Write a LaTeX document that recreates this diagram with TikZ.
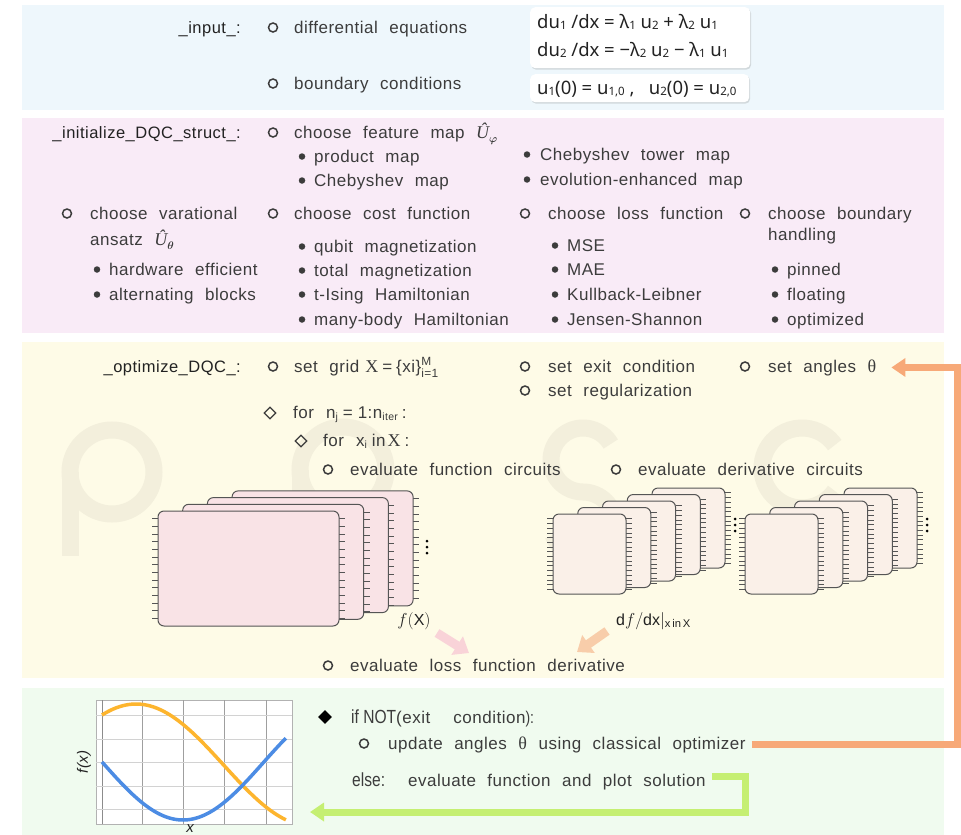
\documentclass[tikz,border=0pt]{standalone}
\usepackage{amsmath}
\usepackage{fontspec}
\setmainfont{Liberation Sans}[LetterSpace=3, WordSpace=2.2]
\newfontfamily\condfont{Liberation Sans}[FakeStretch=0.82]
\newfontfamily\eqfont{Noto Sans}
\newfontfamily\serifg{Liberation Serif}
\usetikzlibrary{arrows.meta,shadows,shapes.geometric,calc}
\definecolor{bandblue}{HTML}{EEF7FC}
\definecolor{bandpink}{HTML}{F9EBF7}
\definecolor{bandyellow}{HTML}{FEFBE7}
\definecolor{bandgreen}{HTML}{F0FBEF}
\definecolor{txtc}{HTML}{3C3C3C}
\definecolor{lblc}{HTML}{222222}
\definecolor{cardpink}{HTML}{F9E3E6}
\definecolor{cardpeach}{HTML}{FAF0E8}
\definecolor{cardedge}{HTML}{555555}
\definecolor{arrorange}{HTML}{F7A978}
\definecolor{arrgreen}{HTML}{C5EF72}
\definecolor{fatpink}{HTML}{F9D3D8}
\definecolor{fatpeach}{HTML}{F8CDAA}
\definecolor{wm}{HTML}{F3EFDC}
\definecolor{plotorange}{HTML}{FDB52E}
\definecolor{plotblue}{HTML}{4C8CE4}
\newcommand\bodyfont{\fontsize{17}{20}\selectfont}
\newcommand\lblfont{\fontsize{16.5}{19}\selectfont}
\newcommand\lsub[1]{\raisebox{-0.25ex}{\fontsize{10.5}{10}\selectfont #1}}
\newcommand\esub[1]{\raisebox{-0.2ex}{\fontsize{11.5}{11}\selectfont #1}}
\newcommand\hatU[1]{{\serifg\itshape\fontsize{18}{20}\selectfont Û}\raisebox{-0.45ex}{\fontsize{11}{11}\selectfont$\boldsymbol{#1}$}}
\newcommand\uth{{\serifg\fontsize{18}{20}\selectfont θ}}
\tikzset{
  txt/.style={anchor=base west, inner sep=0pt, text=txtc, font=\bodyfont},
  lbl/.style={anchor=base east, inner sep=0pt, text=lblc, font=\lblfont},
  hb/.style={circle, draw=txtc, line width=1.5pt, minimum size=9pt, inner sep=0pt},
  fb/.style={circle, fill=txtc, minimum size=6.5pt, inner sep=0pt},
  hd/.style={diamond, draw=txtc, line width=1.2pt, minimum size=12pt, inner sep=0pt},
  fd/.style={diamond, fill=black, minimum size=14pt, inner sep=0pt},
  eqbox/.style={draw=none, fill=white, rounded corners=5pt, inner sep=0pt, anchor=north west,
     drop shadow={opacity=0.25, shadow xshift=1pt, shadow yshift=-1.5pt}},
  eqtxt/.style={anchor=base west, inner sep=0pt, text=lblc, font=\eqfont\fontsize{18.5}{20}\selectfont},
  loop/.style={line width=7pt, -{Triangle[length=14pt,width=18pt]}},
  fat/.style={line width=9pt, -{Triangle[length=14pt,width=21pt]}},
  tick/.style={draw=cardedge, line width=0.6pt},
  cardbox/.style={draw=cardedge, line width=1pt, rounded corners=6pt},
}
% name, bullet x, baseline y, text x, text
\newcommand\hitem[5]{\node[hb] (#1b) at (#2,#3-5.5) {}; \node[txt] (#1) at (#4,#3) {#5};}
\newcommand\fitem[5]{\node[fb] (#1b) at (#2,#3-5.5) {}; \node[txt] (#1) at (#4,#3) {#5};}
% x, y, w, h, fill, nticks
\newcommand\qcard[6]{%
  \draw[tick] \foreach \k in {1,...,#6} { ({#1+#3},{#2+\k*#4/(#6+1)}) -- ++(6,0) };
  \draw[cardbox, fill=#5] (#1,#2) rectangle ++(#3,#4);}
\newcommand\lticks[4]{% x, y, h, n
  \draw[tick] \foreach \k in {1,...,#4} { ({#1-6},{#2+\k*#3/(#4+1)}) -- ++(6,0) };}
\begin{document}
\begin{tikzpicture}[x=1pt,y=-1pt]
\useasboundingbox (0,0) rectangle (961,835);
\fill[white] (0,0) rectangle (961,835);
% bands
\fill[bandblue] (22,5) rectangle (944,110);
\fill[bandpink] (22,118) rectangle (944,333);
\fill[bandyellow] (22,342) rectangle (944,678);
\fill[bandgreen] (22,688) rectangle (944,835);
% watermark
\begin{scope}[draw=wm, line width=17pt]
  \draw (112,472) circle (42);
  \draw (70,472) -- (70,556);
  \draw (343,470) circle (43);
  \draw (300,470) -- (300,520);
  \draw ($(583,460)+(-30:32)$) arc (-30:-270:32) arc (-90:160:32);
  \draw ($(802,468)+(35:40)$) arc (35:325:40);
\end{scope}
% ---------- input ----------
\node[lbl] (inl) at (241,33) {\_input\_:};
\hitem{diff}{273}{33}{294}{differential equations}
\hitem{bcs}{273}{89}{294}{boundary conditions}
\node[eqbox, minimum width=220pt, minimum height=61pt] (eqb) at (530,7) {};
\node[eqbox, minimum width=219pt, minimum height=28pt] (bcb) at (530,74) {};
\node[eqtxt] (eq1) at (537,28) {du\esub{1} /dx = λ\esub{1} u\esub{2} + λ\esub{2} u\esub{1}};
\node[eqtxt] (eq2) at (537,56) {du\esub{2} /dx = −λ\esub{2} u\esub{2} − λ\esub{1} u\esub{1}};
\node[eqtxt] (eq3) at (537,94) {u\esub{1}(0) = u\esub{1,0} ,\ \ \ u\esub{2}(0) = u\esub{2,0}};
% ---------- initialize ----------
\node[lbl] (inil) at (241,138) {\_initialize\_DQC\_struct\_:};
\hitem{fm}{273}{138}{294}{choose feature map \hatU{\varphi}}
\fitem{pm}{302}{162}{314}{product map}
\fitem{cm}{302}{186}{314}{Chebyshev map}
\fitem{ct}{527}{160}{540}{Chebyshev tower map}
\fitem{ev}{527}{185}{540}{evolution-enhanced map}
\hitem{va}{67}{219}{90}{choose varational}
\node[txt] (va2) at (90,245) {ansatz \hatU{\theta}};
\fitem{he}{97}{275}{109}{hardware efficient}
\fitem{ab}{97}{300}{109}{alternating blocks}
\hitem{cf}{273}{219}{294}{choose cost function}
\fitem{qm}{302}{252}{314}{qubit magnetization}
\fitem{tm}{302}{276}{314}{total magnetization}
\fitem{ti}{302}{300}{314}{t-Ising Hamiltonian}
\fitem{mb}{302}{325}{314}{many-body Hamiltonian}
\hitem{lf}{525}{219}{548}{choose loss function}
\fitem{mse}{555}{251}{567}{MSE}
\fitem{mae}{555}{275}{567}{MAE}
\fitem{kl}{555}{300}{567}{Kullback-Leibner}
\fitem{js}{555}{325}{567}{Jensen-Shannon}
\hitem{bh}{745}{219}{768}{choose boundary}
\node[txt] (bh2) at (768,240) {handling};
\fitem{pin}{775}{275}{787}{pinned}
\fitem{flo}{775}{300}{787}{floating}
\fitem{opt}{775}{325}{787}{optimized}
% ---------- optimize ----------
\node[lbl] (optl) at (241,372) {\_optimize\_DQC\_:};
\hitem{sg}{273}{372}{294}{set grid\hspace{6pt}{\serifg\fontsize{18}{20}\selectfont X}\hspace{4pt}=\hspace{4pt}\{xi\}$^{\text{M}}_{\text{i=1}}$}
\hitem{ec}{525}{372}{548}{set exit condition}
\hitem{rg}{525}{396}{548}{set regularization}
\hitem{ang}{745}{372}{768}{set angles \uth}
\node[hd] (d1) at (270,413) {};
\node[txt] (for1) at (293,418) {for\hspace{12pt}n\lsub{j}\hspace{5pt}=\hspace{5pt}1:n\lsub{iter}\hspace{4pt}:};
\node[hd] (d2) at (301,441) {};
\node[txt] (for2) at (323,446) {for\hspace{12pt}x\lsub{i}\hspace{5pt}in\hspace{2pt}{\serifg\fontsize{18}{20}\selectfont X}\hspace{4pt}:};
\hitem{fc}{328}{475}{350}{evaluate function circuits}
\hitem{dc}{616}{475}{638}{evaluate derivative circuits}
% function circuits
\foreach \i in {3,2,1,0} { \qcard{158+\i*24.7}{511-\i*6.7}{181}{115}{cardpink}{14} }
\lticks{158}{511}{115}{14}
\foreach \j in {0,1,2} \fill[black] (427,541+\j*6) circle (1.5);
% derivative circuits
\foreach \i in {4,3,2,1,0} { \qcard{553+\i*24.75}{514-\i*6.5}{73}{80}{cardpeach}{16} }
\lticks{553}{514}{80}{16}
\foreach \j in {0,1,2} \fill[black] (735,519+\j*6) circle (1.5);
\foreach \i in {4,3,2,1,0} { \qcard{745+\i*24.75}{514-\i*6.5}{73}{80}{cardpeach}{16} }
\lticks{745}{514}{80}{16}
\foreach \j in {0,1,2} \fill[black] (927,519+\j*6) circle (1.5);
\node[inner sep=0pt, text=lblc, font=\fontsize{16}{18}\selectfont] (fX) at (414,621) {$f(\mathrm{X})$};
\node[anchor=west, inner sep=0pt, text=lblc, font=\fontsize{16}{18}\selectfont] (dfdx) at (616,621) {$\mathrm{d}f/\mathrm{dx}|_{\mathrm{x\,in\,X}}$};
\hitem{lo}{328}{671}{350}{evaluate loss function derivative}
\coordinate (pa) at (437,633); \coordinate (pb) at (469,653);
\coordinate (qa) at (607,631); \coordinate (qb) at (577,652);
\draw[fat, fatpink] (pa) -- (pb);
\draw[fat, fatpeach] (qa) -- (qb);
% ---------- green ----------
\node[draw=gray!60, fill=white, line width=0.8pt, minimum width=196pt, minimum height=124pt, inner sep=0pt, anchor=north west] (plot) at (96,700) {};
\foreach \gx in {142,183,224,266} \draw[gray!75, line width=0.6pt] (\gx,700) -- (\gx,824);
\draw[gray!90, line width=0.9pt] (102,700) -- (102,824);
\foreach \gy in {715,739,762,786,809} \draw[gray!35, line width=0.8pt] (96,\gy) -- (292,\gy);
\draw[plotorange, line width=3.5pt] plot[domain=0:1, samples=80] ({102+184*\x}, {765-61*cos(3.3*(\x-0.185) r)});
\draw[plotblue, line width=3.5pt] plot[domain=0:1, samples=80] ({102+184*\x}, {762.7+57.3*cos(3.6*(\x-0.44) r)});
\node[rotate=90, inner sep=0pt, text=lblc, font=\fontsize{15}{17}\selectfont\itshape] (fxl) at (84,762) {f(x)};
\node[inner sep=0pt, text=lblc, font=\fontsize{15}{17}\selectfont\itshape] (xl) at (190,829) {x};
\node[fd] (dm) at (325,717) {};
\node[txt] (ifn) at (351,723) {{\condfont\fontsize{19}{20}\selectfont if NOT}(exit\ \ condition{\condfont ):}};
\hitem{upd}{364}{749}{388}{update angles \uth\ using classical optimizer}
\node[txt] (els) at (352,786) {{\condfont\fontsize{19}{20}\selectfont else:}\ \ evaluate function and plot solution};
% loops
\coordinate (ox) at (957,0);
\coordinate (gx) at (745,0);
\coordinate (gtip) at (310,812);
\draw[loop, arrorange] ([xshift=6pt]upd.east) -- (upd.east -| ox) |- ([xshift=15pt]ang.east);
\draw[loop, arrgreen] ([xshift=6pt,yshift=4pt]els.east) -- ([yshift=4pt]els.east -| gx) |- (gtip);
\end{tikzpicture}
\end{document}
